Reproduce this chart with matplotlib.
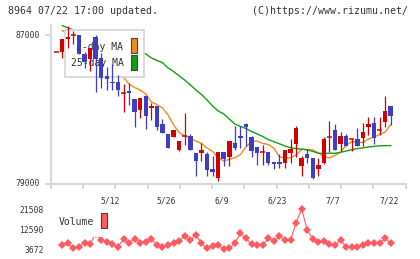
import matplotlib
matplotlib.use("Agg")
import matplotlib.pyplot as plt
import numpy as np
from matplotlib.patches import Rectangle
from matplotlib.transforms import ScaledTranslation

nan = np.nan

# daily candles, oldest first (index 0 .. 60)
opens = [86070, 86070, 86770, 87000, 87000, 85960, 85710, 86910, 85750, 84800,
         84490, 84490, 83900, 84010, 83550, 82970, 83740, 83060, 83190, 82200,
         81670, 81510, 80830, 81560, 81580, 80650, 80680, 80610, 79800, 79340,
         80700, 80470, 81190, 81580, 82220, 81540, 80970, 80700, 80700, 80160,
         80160, 80140, 80680, 81150, 79980, 80590, 80380, 79790, 80140, 81540,
         81900, 81150, 81580, 81400, 81420, 81490, 82080, 82260, 81900, 82350,
         83190]
highs = [86070, 86790, 87480, 87220, 87000, 86100, 86290, 87000, 86020, 85300,
         85430, 84850, 84350, 84410, 83550, 83600, 83740, 83330, 83190, 82490,
         81670, 81900, 81310, 82830, 81670, 80650, 81190, 80700, 80500, 80700,
         80700, 81310, 82110, 82110, 82260, 81580, 80970, 81090, 80700, 80160,
         80590, 80830, 81420, 82110, 80500, 80860, 80380, 80410, 81540, 82380,
         82220, 81780, 81690, 81420, 82020, 82290, 82580, 82580, 82580, 83720,
         83190]
lows = [86070, 85780, 86290, 86500, 85960, 85240, 85080, 83960, 84140, 84050,
        84050, 83740, 82880, 83240, 82080, 82560, 81950, 82440, 81900, 81750,
        80950, 81510, 80790, 81090, 80830, 79450, 80250, 79450, 79450, 79180,
        79980, 79980, 80830, 80950, 81040, 80470, 80020, 80020, 80020, 79790,
        79880, 79880, 80140, 80470, 79450, 80140, 79270, 79450, 80060, 80730,
        80830, 80790, 81040, 80790, 81040, 81040, 81630, 81150, 81630, 82080,
        82170]
closes = [86070, 86790, 86910, 87000, 85960, 85570, 86290, 85700, 84680, 84640,
          84410, 84050, 83900, 83870, 82880, 83600, 82670, 83200, 82080, 81750,
          80950, 81900, 81310, 81560, 80830, 80250, 80830, 79750, 79660, 80700,
          80340, 81310, 80950, 81490, 82080, 80790, 80680, 80700, 80140, 80060,
          80060, 80830, 80860, 82020, 80410, 80380, 79340, 80020, 81420, 81540,
          80830, 81580, 81040, 81400, 81040, 81780, 82220, 81490, 81900, 82920,
          82670]
volumes = [nan, 5580, 6330, 4120, 4820, 6590, 5890, 10530, 7790, 7040,
           5890, 4820, 8100, 6590, 8320, 6590, 6770, 8100, 5580, 4560,
           5580, 6330, 7350, 9560, 7660, 10000, 6330, 4120, 5130, 5580,
           3672, 4120, 6330, 10750, 8540, 5890, 5580, 5580, 8540, 7350,
           9560, 7790, 7790, 15450, 21508, 12210, 8100, 6770, 7350, 5890,
           5580, 7790, 4560, 4820, 4560, 5580, 6330, 6330, 6330, 8540,
           6330]
ma5 = [nan, 87240, 87080, 86950, 86620, 86460, 86360, 86140, 85770, 85500,
       85230, 84910, 84720, 84370, 84180, 84050, 83830, 83400, 83270, 83080,
       82710, 82170, 81770, 81580, 81450, 81310, 81180, 80930, 80750, 80400,
       80240, 80320, 80410, 80580, 80990, 81280, 81310, 81180, 81120, 80930,
       80450, 80410, 80410, 80560, 80860, 80860, 80830, 80670, 80450, 80400,
       80530, 80720, 81090, 81270, 81270, 81230, 81420, 81520, 81660, 81790,
       82200]
ma25 = [nan, 87510, 87380, 87270, 87160, 87050, 86950, 86840, 86730, 86650,
        86570, 86460, 86380, 86300, 86200, 86110, 85980, 85770, 85630, 85520,
        85230, 85040, 84800, 84580, 84320, 84050, 83810, 83510, 83190, 82920,
        82760, 82490, 82220, 82090, 81980, 81820, 81690, 81550, 81390, 81270,
        81160, 81040, 80950, 80900, 80870, 80830, 80750, 80650, 80650, 80650,
        80650, 80700, 80770, 80840, 80900, 80940, 80990, 81020, 81050, 81060,
        81060]
date_idx = [10, 20, 30, 40, 50, 60]
date_labels = ["5/12", "5/26", "6/9", "6/23", "7/7", "7/22"]
price_ticks = [79000, 87000]
vol_ticks = [3672, 12590, 21508]

RED = "#d40000"
BLUE = "#3e3ec4"
ORANGE = "#f08c1e"
GREEN = "#14a014"
PINK = "#ff5a5f"
GRID = "#d8d8d8"
TXT = "#333333"

plt.rcParams['font.family'] = ['DejaVu Sans Mono']

W, H = 420, 259
fig = plt.figure(figsize=(W / 100, H / 100), dpi=100)


def fx(px):
    return px / W


def fy(py):
    return 1 - py / H


ax = fig.add_axes([fx(50.7), fy(184), 355 / W, 159 / H])
vax = fig.add_axes([fx(50.7), fy(254), 355 / W, 51 / H])

o = np.array(opens, float)
h = np.array(highs, float)
l = np.array(lows, float)
c = np.array(closes, float)
x = np.arange(len(c))
cols = [RED if cc >= oo else BLUE for oo, cc in zip(o, c)]

# candles
ax.vlines(x, l, h, colors=cols, lw=0.9, zorder=5)
body = np.abs(c - o)
ax.bar(x, body, bottom=np.minimum(o, c), width=0.8, color=cols, zorder=6)
doji = body == 0
ax.hlines(c[doji], x[doji] - 0.45, x[doji] + 0.45, colors=RED, lw=1.1, zorder=6)

# moving averages
ax.plot(x, ma5, color=ORANGE, lw=1, zorder=2)
ax.plot(x, ma25, color=GREEN, lw=1, zorder=2)

xmin, xmax = -1.078, 62.69
ymin, ymax = 79000, 87537
ax.set_xlim(xmin, xmax)
ax.set_ylim(ymin, ymax)
for s in ["top", "right"]:
    ax.spines[s].set_visible(False)
for s in ["left", "bottom"]:
    ax.spines[s].set_color(GRID)
    ax.spines[s].set_linewidth(1.5)
ax.set_facecolor("none")

# price ticks: marks from the axis, labels placed on the figure
ax.set_yticks(price_ticks)
ax.set_yticklabels([])
ax.tick_params(axis="y", length=4.3, width=1.5, color=GRID)
ax_bottom, ax_height = fy(184), 159 / H
for v in price_ticks:
    fig.text(fx(39.5), ax_bottom + ax_height * (v - ymin) / (ymax - ymin),
             str(v), ha="right", va="center", fontsize=5.8, color=TXT,
             zorder=10)

ax.set_xticks(date_idx)
ax.set_xticklabels(date_labels)
ax.set_xticks(np.linspace(xmin, xmax, 12), minor=True)
ax.tick_params(axis="x", which="major", length=0, labelsize=5.8,
               labelcolor=TXT, pad=9)
ax.tick_params(axis="x", which="minor", length=3.6, width=1.5, color=GRID)
for lbl in ax.get_xticklabels():
    lbl.set_transform(lbl.get_transform() +
                      ScaledTranslation(-0.02, 0, fig.dpi_scale_trans))

# price legend (sits above the lines, below the candles)
ax.add_patch(Rectangle((fx(65), fy(77.3)), 79.3 / W, 47.3 / H,
                       transform=fig.transFigure, facecolor="white",
                       edgecolor=GRID, lw=1.3, zorder=3, clip_on=False))
ax.text(fx(123.5), fy(46.5), "5-day MA", transform=fig.transFigure,
        ha="right", va="center", fontsize=7, color=TXT, zorder=4)
ax.text(fx(123.5), fy(62.5), "25-day MA", transform=fig.transFigure,
        ha="right", va="center", fontsize=7, color=TXT, zorder=4)
ax.add_patch(Rectangle((fx(131.3), fy(52.5)), 6 / W, 15 / H,
                       transform=fig.transFigure, facecolor=ORANGE,
                       edgecolor="#444444", lw=0.8, zorder=4, clip_on=False))
ax.add_patch(Rectangle((fx(131.3), fy(69.7)), 6 / W, 15 / H,
                       transform=fig.transFigure, facecolor=GREEN,
                       edgecolor="#444444", lw=0.8, zorder=4, clip_on=False))

# volume panel
vax.plot(x, volumes, color=PINK, lw=0.8, marker="D", ms=4, mew=0, zorder=2)
vax.set_xlim(xmin, xmax)
vax.set_ylim(1592, 24164)
for s in vax.spines.values():
    s.set_visible(False)
vax.set_facecolor("none")
vax.set_xticks([])
vax.set_yticks(vol_ticks)
vax.set_yticklabels([str(v) for v in vol_ticks])
vax.tick_params(axis="y", length=0, labelsize=5.8, labelcolor=TXT, pad=5)

vax.add_patch(Rectangle((fx(55), fy(237.3)), 56 / W, 32 / H,
                        transform=fig.transFigure, facecolor="white",
                        edgecolor="none", zorder=3, clip_on=False))
vax.text(fx(59), fy(222.3), "Volume", transform=fig.transFigure,
         ha="left", va="center", fontsize=7, color=TXT, zorder=4)
vax.add_patch(Rectangle((fx(101.3), fy(228.3)), 6 / W, 15 / H,
                        transform=fig.transFigure, facecolor=PINK,
                        edgecolor="#444444", lw=0.8, zorder=4, clip_on=False))

fig.text(fx(8.3), fy(11.5), "8964 07/22 17:00 updated.", ha="left",
         va="center", fontsize=7.1, color=TXT)
fig.text(fx(408.3), fy(11.5), "(C)https://www.rizumu.net/", ha="right",
         va="center", fontsize=7.1, color=TXT)

fig.savefig("out.png", dpi=100)
